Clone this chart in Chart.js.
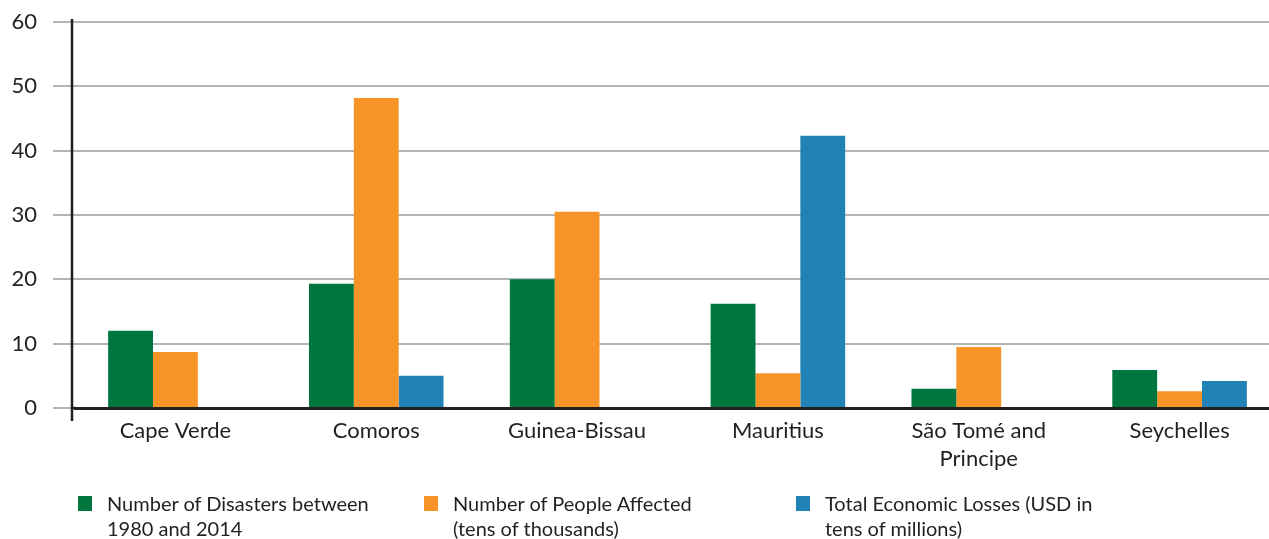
<!DOCTYPE html>
<html>
<head>
<meta charset="utf-8">
<script src="https://cdn.jsdelivr.net/npm/chart.js@4"></script>
<style>
    html, body { margin: 0; padding: 0; background: #fff; overflow: hidden; }
    #wrap { position: relative; width: 1280px; height: 539px; }
    #legend { position: absolute; left: 0; top: 491px; width: 1269px; font-family: Lato, sans-serif; font-size: 20px; color: #231f20; }
    .item { position: absolute; top: 0; line-height: 25px; }
    .sw { position: absolute; left: 0; top: 5px; width: 14px; height: 15px; }
    .txt { position: absolute; left: 29px; top: 0; white-space: nowrap; }
</style>
</head>
<body>
<div id="wrap">
    <canvas id="chart" width="1280" height="539"></canvas>
    <div id="legend"></div>
</div>
<script>
const categories = ['Cape Verde', 'Comoros', 'Guinea-Bissau', 'Mauritius', ['São Tomé and', 'Principe'], 'Seychelles'];
const disasters = [12.0, 19.3, 20.0, 16.2, 3.0, 5.9];
const peopleAffected = [8.7, 48.2, 30.5, 5.4, 9.5, 2.6];
const economicLosses = [null, 5.0, null, 42.3, null, 4.2];
const yTicks = [0, 10, 20, 30, 40, 50, 60];

const seriesNames = [
    ['Number of Disasters between', '1980 and 2014'],
    ['Number of People Affected', '(tens of thousands)'],
    ['Total Economic Losses (USD in', 'tens of millions)']
];
const seriesColors = ['#00763f', '#f79427', '#2182b6'];
const legendX = [78, 424, 796];

const fontFamily = "Lato, 'Open Sans', sans-serif";
const ink = '#231f20';

// y axis line sits 3px left of the plot edge and runs a bit below the x axis
const axisLines = {
    id: 'axisLines',
    afterDraw(chart) {
        const { ctx, chartArea } = chart;
        const x = chartArea.left - 3;
        ctx.save();
        ctx.strokeStyle = ink;
        ctx.lineWidth = 2.5;
        ctx.beginPath();
        ctx.moveTo(x, chartArea.top - 3);
        ctx.lineTo(x, chartArea.bottom + 13);
        ctx.moveTo(x, chartArea.bottom);
        ctx.lineTo(chartArea.left, chartArea.bottom);
        ctx.stroke();
        ctx.restore();
    }
};

new Chart(document.getElementById('chart'), {
    type: 'bar',
    data: {
        labels: categories,
        datasets: [disasters, peopleAffected, economicLosses].map((d, i) => ({
            label: seriesNames[i].join(' '),
            data: d,
            backgroundColor: seriesColors[i],
            borderWidth: 0,
            categoryPercentage: 0.67,
            barPercentage: 1.0
        }))
    },
    options: {
        responsive: false,
        animation: false,
        layout: { padding: { top: 22, right: 0, left: 0, bottom: 0 } },
        plugins: {
            legend: { display: false },
            tooltip: { enabled: false }
        },
        scales: {
            x: {
                grid: { display: false },
                border: { display: true, color: ink, width: 3 },
                ticks: {
                    color: ink,
                    font: { family: fontFamily, size: 22, lineHeight: 1.27 },
                    padding: 1,
                    maxRotation: 0,
                    autoSkip: false
                },
                afterFit(scale) { scale.height = 131; }
            },
            y: {
                min: 0,
                max: 60,
                afterBuildTicks(scale) { scale.ticks = yTicks.map(v => ({ value: v })); },
                grid: { color: '#b5b5b5', lineWidth: 2, tickLength: 22, drawTicks: true },
                border: { display: false },
                ticks: {
                    color: ink,
                    font: { family: fontFamily, size: 22 },
                    padding: 16
                },
                afterFit(scale) {
                    scale.width = 75;
                    scale.paddingTop = 0;
                }
            }
        }
    },
    plugins: [axisLines]
});

const legend = document.getElementById('legend');
seriesNames.forEach((name, i) => {
    const el = document.createElement('div');
    el.className = 'item';
    el.style.left = legendX[i] + 'px';
    el.innerHTML = `<span class="sw" style="background:${seriesColors[i]}"></span><span class="txt">${name.join('<br>')}</span>`;
    legend.appendChild(el);
});
</script>
</body>
</html>
